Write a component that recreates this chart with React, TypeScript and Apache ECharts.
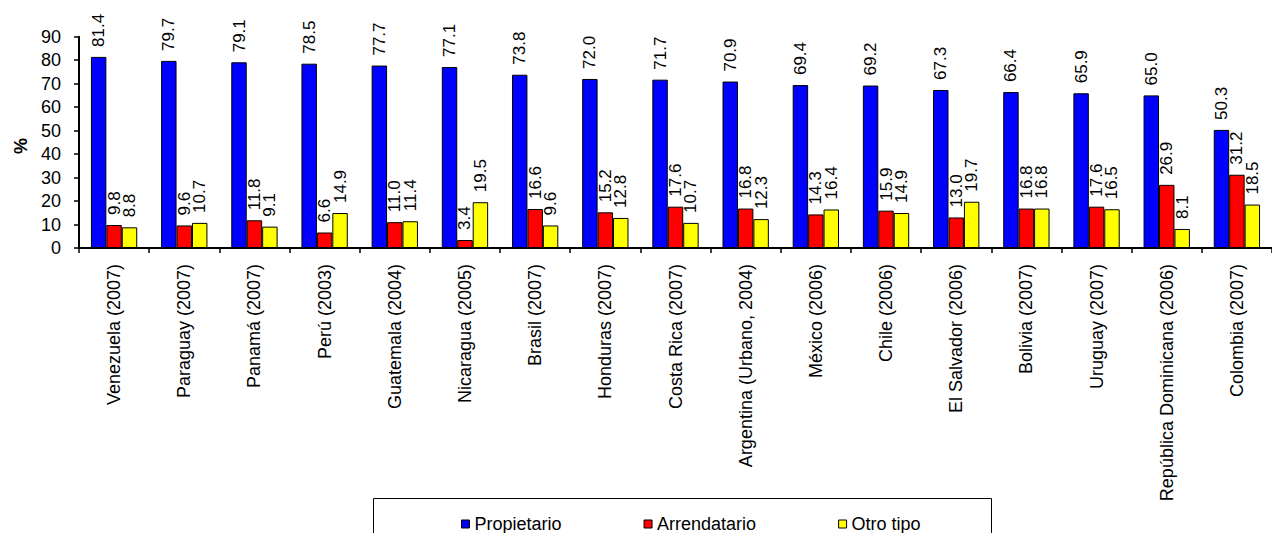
import React, { useEffect, useRef } from "react";
import * as echarts from "echarts";

const categories = [
  "Venezuela (2007)",
  "Paraguay (2007)",
  "Panamá (2007)",
  "Perú (2003)",
  "Guatemala (2004)",
  "Nicaragua (2005)",
  "Brasil (2007)",
  "Honduras (2007)",
  "Costa Rica (2007)",
  "Argentina (Urbano, 2004)",
  "México (2006)",
  "Chile (2006)",
  "El Salvador (2006)",
  "Bolivia (2007)",
  "Uruguay (2007)",
  "República Dominicana (2006)",
  "Colombia (2007)",
];

const propietario = [81.4, 79.7, 79.1, 78.5, 77.7, 77.1, 73.8, 72.0, 71.7, 70.9, 69.4, 69.2, 67.3, 66.4, 65.9, 65.0, 50.3];
const arrendatario = [9.8, 9.6, 11.8, 6.6, 11.0, 3.4, 16.6, 15.2, 17.6, 16.8, 14.3, 15.9, 13.0, 16.8, 17.6, 26.9, 31.2];
const otroTipo = [8.8, 10.7, 9.1, 14.9, 11.4, 19.5, 9.6, 12.8, 10.7, 12.3, 16.4, 14.9, 19.7, 16.8, 16.5, 8.1, 18.5];

const yTicks = { min: 0, max: 90, interval: 10 };

const FONT = "'Liberation Sans', Arial, sans-serif";

function makeSeries(name: string, data: number[], color: string) {
  return {
    name,
    type: "bar",
    data,
    barGap: "0%",
    barCategoryGap: "34%",
    itemStyle: { color, borderColor: "#000", borderWidth: 1 },
    label: {
      show: true,
      position: "top",
      rotate: 90,
      align: "left",
      verticalAlign: "middle",
      distance: 10,
      fontSize: 17,
      fontFamily: FONT,
      color: "#000",
      formatter: (p: any) => Number(p.value).toFixed(1),
    },
  };
}

export default function App() {
  const ref = useRef<HTMLDivElement>(null);
  useEffect(() => {
    if (!ref.current) return;
    const chart = echarts.init(ref.current, undefined, { renderer: "svg" });
    chart.setOption({
      animation: false,
      textStyle: { fontFamily: FONT },
      grid: { left: 79, top: 36.7, bottom: 285, right: -9, containLabel: false },
      legend: {
        left: 456,
        top: 510,
        itemWidth: 8,
        itemHeight: 8,
        itemGap: 82,
        icon: "rect",
        textStyle: { fontSize: 18, fontFamily: FONT, color: "#000" },
        itemStyle: { borderColor: "#000", borderWidth: 1 },
        data: ["Propietario", "Arrendatario", "Otro tipo"],
      },
      graphic: [
        {
          type: "rect",
          shape: { x: 373.5, y: 498.5, width: 618, height: 60 },
          style: { fill: "none", stroke: "#000", lineWidth: 1 },
          z: -1,
        },
        {
          type: "text",
          x: 21,
          y: 146,
          rotation: Math.PI / 2,
          style: {
            text: "%",
            fontSize: 18,
            fontWeight: "bold",
            fontFamily: FONT,
            fill: "#000",
            align: "center",
            verticalAlign: "middle",
          },
        },
      ],
      xAxis: {
        type: "category",
        data: categories,
        boundaryGap: true,
        axisLine: { lineStyle: { color: "#000", width: 2 } },
        axisTick: { show: true, length: 5, interval: 0, lineStyle: { color: "#000", width: 1.5 } },
        axisLabel: {
          interval: 0,
          rotate: 90,
          margin: 16,
          fontSize: 18,
          fontFamily: FONT,
          color: "#000",
        },
        splitLine: { show: false },
      },
      yAxis: {
        type: "value",
        min: yTicks.min,
        max: yTicks.max,
        interval: yTicks.interval,
        axisLine: { show: true, lineStyle: { color: "#000", width: 2 } },
        axisTick: { show: true, length: 5, lineStyle: { color: "#000", width: 1.5 } },
        axisLabel: { fontSize: 18, fontFamily: FONT, color: "#000", margin: 18 },
        splitLine: { show: false },
      },
      series: [
        makeSeries("Propietario", propietario, "#0000ff"),
        makeSeries("Arrendatario", arrendatario, "#ff0000"),
        makeSeries("Otro tipo", otroTipo, "#ffff00"),
      ],
    });
    return () => chart.dispose();
  }, []);
  return (
    <div
      ref={ref}
      style={{ position: "fixed", left: 0, top: 0, width: 1272, height: 533, background: "#fff" }}
    />
  );
}
